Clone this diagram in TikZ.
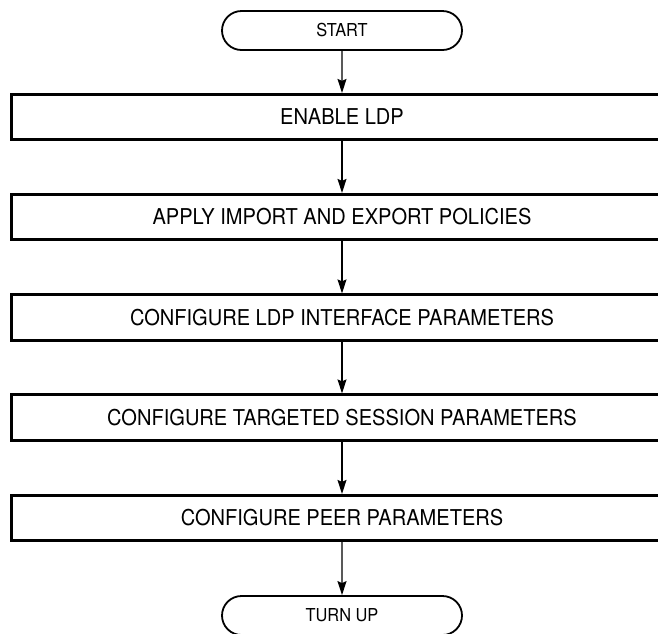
\documentclass[tikz,border=0pt]{standalone}
\usepackage{fontspec}
\setmainfont{TeX Gyre Heros}
\newfontfamily\narrowfont[FakeStretch=0.92]{TeX Gyre Heros}
\usetikzlibrary{arrows.meta, shapes.misc}

\begin{document}
\begin{tikzpicture}[x=1pt, y=1pt, >={Stealth[length=14pt, width=9pt, inset=2pt]},
      stepbox/.style={draw, rectangle, line width=2.7pt, minimum width=661pt,
                      minimum height=45.5pt, inner sep=0pt,
                      font=\narrowfont\fontsize{21.8}{24}\selectfont},
      term/.style={draw, rounded rectangle, line width=1.8pt, minimum width=240pt,
                   minimum height=39pt, inner sep=0pt,
                   font=\narrowfont\fontsize{17.8}{20}\selectfont},
      flow/.style={->, line width=1.4pt}]

    % frame of the page
    \useasboundingbox (0,0) rectangle (658,-633);

    % --- terminals ---
    \node[term] (start)  at (342, -30.5) {START};
    \node[term] (turnup) at (342, -615.5) {TURN UP};

    % --- configuration steps, one every 100pt ---
    \node[stepbox] (enable)   at (342, -117)   {ENABLE LDP};
    \node[stepbox] (policies) at (342, -217)   {APPLY IMPORT AND EXPORT POLICIES};
    \node[stepbox] (ifparams) at (342, -317.5) {CONFIGURE LDP INTERFACE PARAMETERS};
    \node[stepbox] (targeted) at (342, -417.5) {CONFIGURE TARGETED SESSION PARAMETERS};
    \node[stepbox] (peer)     at (342, -518)   {CONFIGURE PEER PARAMETERS};

    % --- flow, top to bottom ---
    \draw[flow] (start) -- (enable);
    \draw[flow] (enable) -- (policies);
    \draw[flow] (policies) -- (ifparams);
    \draw[flow] (ifparams) -- (targeted);
    \draw[flow] (targeted) -- (peer);
    \draw[flow] (peer) -- (turnup);

\end{tikzpicture}
\end{document}
